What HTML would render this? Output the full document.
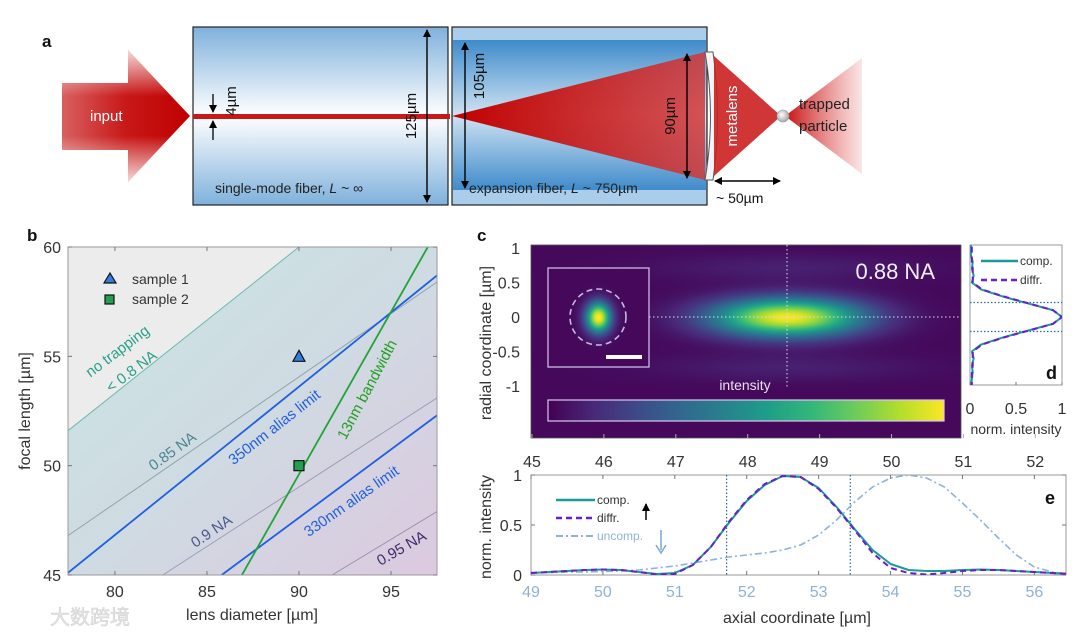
<!DOCTYPE html>
<html><head><meta charset="utf-8">
<style>
html,body{margin:0;padding:0;background:#fff;}
#root{position:relative;width:1080px;height:637px;overflow:hidden;font-family:"Liberation Sans","Noto Sans CJK SC",sans-serif;}
svg{position:absolute;left:0;top:0;}
canvas{position:absolute;}
</style></head>
<body>
<div id="root">
<canvas id="heat" width="430" height="193" style="left:531px;top:245px;"></canvas>
<svg id="fig" width="1080" height="637" viewBox="0 0 1080 637">
<defs>
  <linearGradient id="smf" x1="0" y1="0" x2="0" y2="1">
    <stop offset="0" stop-color="#7fb1dc"/><stop offset="0.5" stop-color="#ffffff"/><stop offset="1" stop-color="#7fb1dc"/>
  </linearGradient>
  <linearGradient id="exf" x1="0" y1="0" x2="0" y2="1">
    <stop offset="0" stop-color="#3f8bcb"/><stop offset="0.5" stop-color="#cfe3f2"/><stop offset="1" stop-color="#3f8bcb"/>
  </linearGradient>
  <linearGradient id="arrowIn" x1="0" y1="0" x2="1" y2="0">
    <stop offset="0" stop-color="#d86060"/><stop offset="0.5" stop-color="#c81818"/><stop offset="1" stop-color="#c00000"/>
  </linearGradient>
  <linearGradient id="arrowV" x1="0" y1="0" x2="0" y2="1">
    <stop offset="0" stop-color="#fff" stop-opacity="0.85"/><stop offset="0.35" stop-color="#fff" stop-opacity="0"/><stop offset="0.65" stop-color="#fff" stop-opacity="0"/><stop offset="1" stop-color="#fff" stop-opacity="0.85"/>
  </linearGradient>
  <linearGradient id="cone" x1="0" y1="0" x2="1" y2="0">
    <stop offset="0" stop-color="#c00000"/><stop offset="1" stop-color="#d23a3a" stop-opacity="0.85"/>
  </linearGradient>
  <linearGradient id="tail" x1="0" y1="0" x2="1" y2="0">
    <stop offset="0" stop-color="#c81010"/><stop offset="1" stop-color="#e05050" stop-opacity="0.15"/>
  </linearGradient>
  <linearGradient id="bgB" x1="0" y1="0" x2="1" y2="1">
    <stop offset="0" stop-color="#c9e6e4"/><stop offset="0.5" stop-color="#cfdbe2"/><stop offset="1" stop-color="#dcc9e0"/>
  </linearGradient>
  <radialGradient id="ball" cx="0.4" cy="0.4" r="0.6">
    <stop offset="0" stop-color="#fff"/><stop offset="1" stop-color="#a8a8a8"/>
  </radialGradient>
  <marker id="ah" markerWidth="8" markerHeight="8" refX="7" refY="4" orient="auto-start-reverse" markerUnits="userSpaceOnUse">
    <path d="M0,0 L8,4 L0,8 z" fill="#000"/>
  </marker>
  <clipPath id="clipB"><rect x="68" y="247" width="369" height="328"/></clipPath>
  <clipPath id="clipE"><rect x="531" y="475" width="535" height="100"/></clipPath>
  <clipPath id="clipD"><rect x="970" y="245" width="92" height="140"/></clipPath>
</defs>

<!-- PANEL A -->
<g>
  <text x="42" y="47" font-size="17" font-weight="bold" fill="#111">a</text>
  <g>
    <polygon points="62,83 128,83 128,50 190,116 128,182 128,150 62,150" fill="url(#arrowIn)"/>
    <polygon points="62,83 128,83 128,50 190,116 128,182 128,150 62,150" fill="url(#arrowV)"/>
    <text x="90" y="121" font-size="15" fill="#fff">input</text>
  </g>
  <rect x="193" y="27" width="255" height="178" fill="url(#smf)" stroke="#222" stroke-width="1.2"/>
  <rect x="452" y="27" width="255" height="178" fill="#a9cdea" stroke="#222" stroke-width="1.2"/>
  <rect x="453" y="40" width="253" height="150" fill="url(#exf)"/>
  <rect x="193" y="114" width="257" height="5" fill="#c81818"/>
  <polygon points="452,116 705,52 705,180" fill="url(#cone)"/>
  <path d="M705,52 Q716,116 705,180 L713,180 Q722,116 713,52 z" fill="#f4f4f4" stroke="#555" stroke-width="1"/>
  <polygon points="714,56 781,116 714,176" fill="#cc2020" opacity="0.9"/>
  <polygon points="785,116 862,58 862,174" fill="url(#tail)"/>
  <circle cx="783" cy="116" r="6" fill="url(#ball)" stroke="#999" stroke-width="0.6"/>
  <line x1="427" y1="30" x2="427" y2="202" stroke="#000" stroke-width="1.4" marker-start="url(#ah)" marker-end="url(#ah)"/>
  <text transform="translate(416,116) rotate(-90)" text-anchor="middle" font-size="15" fill="#111">125µm</text>
  <line x1="465" y1="43" x2="465" y2="188" stroke="#000" stroke-width="1.4" marker-start="url(#ah)" marker-end="url(#ah)"/>
  <text transform="translate(484,76) rotate(-90)" text-anchor="middle" font-size="15" fill="#111">105µm</text>
  <line x1="687" y1="54" x2="687" y2="178" stroke="#000" stroke-width="1.4" marker-start="url(#ah)" marker-end="url(#ah)"/>
  <text transform="translate(675,116) rotate(-90)" text-anchor="middle" font-size="15" fill="#111">90µm</text>
  <line x1="213" y1="94" x2="213" y2="112" stroke="#000" stroke-width="1.3" marker-end="url(#ah)"/>
  <line x1="213" y1="140" x2="213" y2="121" stroke="#000" stroke-width="1.3" marker-end="url(#ah)"/>
  <text transform="translate(236,101) rotate(-90)" text-anchor="middle" font-size="15" fill="#111">4µm</text>
  <text x="215" y="193" font-size="14" fill="#222">single-mode fiber, <tspan font-style="italic">L</tspan> ~ ∞</text>
  <text x="469" y="193" font-size="14" fill="#222">expansion fiber, <tspan font-style="italic">L</tspan> ~ 750µm</text>
  <text transform="translate(737,116) rotate(-90)" text-anchor="middle" font-size="15" fill="#fff">metalens</text>
  <line x1="715" y1="181" x2="780" y2="181" stroke="#000" stroke-width="1.4" marker-start="url(#ah)" marker-end="url(#ah)"/>
  <text x="716" y="203" font-size="14" fill="#111">~ 50µm</text>
  <text x="799" y="109" font-size="15" fill="#222">trapped</text>
  <text x="799" y="131" font-size="15" fill="#222">particle</text>
</g>

<!-- PANEL B -->
<g id="panelB">
  <text x="27" y="241" font-size="17" font-weight="bold" fill="#111">b</text>
</g>

<!-- PANEL C/D/E -->
<g id="panelC">
  <text x="477" y="241" font-size="17" font-weight="bold" fill="#111">c</text>
</g>
<g id="panelD"></g>
<g id="panelE"></g>

<text x="50" y="624" font-size="20" fill="#e6e6e6" stroke="#cfcfcf" stroke-width="0.5">大数跨境</text>
</svg>
</div>

<script>
// ===== Panel b data =====
const bXTicks = [80, 85, 90, 95];
const bYTicks = [45, 50, 55, 60];
const bLineNames = ["no-trapping-0.8NA", "0.85NA", "350nm-alias", "0.9NA", "330nm-alias", "0.95NA", "13nm-bandwidth"];
const bLineX1 = [77.45, 77.45, 77.45, 82.6, 85.8, 91.8, 86.9];
const bLineY1 = [51.6, 46.8, 45.1, 45.0, 45.0, 45.0, 45.0];
const bLineX2 = [90.0, 97.5, 97.5, 97.5, 97.5, 97.5, 97.0];
const bLineY2 = [60.0, 58.4, 58.7, 53.1, 52.3, 47.9, 60.0];
const bSampleX = [90, 90];
const bSampleY = [55, 50];

// ===== Panel c/d/e data =====
const cYTicks = [1, 0.5, 0, -0.5, -1];
const cYTickLabels = ["1", "0.5", "0", "-0.5", "-1"];
const cTopTicks = [45, 46, 47, 48, 49, 50, 51, 52];
const dXTicks = [0, 0.5, 1];
const dR = [-1.75,-1.6,-1.4,-1.2,-1.0,-0.8,-0.7,-0.6,-0.5,-0.4,-0.3,-0.2,-0.1,0,0.1,0.2,0.3,0.4,0.5,0.6,0.7,0.8,0.9,1.04];
const dComp = [0.01,0.02,0.01,0.02,0.01,0.03,0.02,0.04,0.02,0.12,0.35,0.62,0.9,1.0,0.9,0.62,0.35,0.12,0.02,0.04,0.02,0.03,0.01,0.01];
const dDiffr = [0.02,0.01,0.02,0.01,0.02,0.02,0.03,0.03,0.03,0.13,0.36,0.63,0.9,1.0,0.9,0.63,0.36,0.13,0.03,0.03,0.03,0.02,0.02,0.02];
const eX = [49,49.25,49.5,49.75,50,50.25,50.5,50.75,51,51.25,51.5,51.75,52,52.25,52.5,52.75,53,53.25,53.5,53.75,54,54.25,54.5,54.75,55,55.25,55.5,55.75,56,56.25,56.5];
const eComp = [0.02,0.03,0.04,0.05,0.055,0.05,0.03,0.01,0.02,0.1,0.28,0.52,0.74,0.9,0.99,0.98,0.87,0.68,0.46,0.25,0.11,0.05,0.04,0.04,0.05,0.055,0.05,0.04,0.03,0.02,0.01];
const eDiffr = [0.02,0.03,0.04,0.05,0.055,0.05,0.03,0.005,0.01,0.1,0.28,0.53,0.75,0.91,0.99,0.98,0.86,0.67,0.45,0.22,0.07,0.02,0.005,0.02,0.04,0.05,0.05,0.04,0.03,0.02,0.01];
const eUncomp = [0.02,0.025,0.03,0.03,0.035,0.04,0.05,0.07,0.09,0.12,0.15,0.18,0.2,0.22,0.25,0.3,0.4,0.55,0.73,0.88,0.97,1.0,0.97,0.88,0.72,0.55,0.37,0.2,0.08,0.03,0.01];
const eXTicks = [49,50,51,52,53,54,55,56];
const eYTicks = [0, 0.5, 1];
const eFwhm = [51.72, 53.44];
const dFwhm = [0.21, -0.21];

const NS = "http://www.w3.org/2000/svg";
function mk(tag, attrs, parent, text){
  const e = document.createElementNS(NS, tag);
  for (const k in attrs) e.setAttribute(k, attrs[k]);
  if (text !== undefined) e.textContent = text;
  parent.appendChild(e);
  return e;
}

// ---------- Panel B ----------
(function(){
  const g = document.getElementById('panelB');
  const X0=68, X1=437, Y0=575, Y1=247, xmin=77.45, xmax=97.5, ymin=45, ymax=60;
  const sx = v => X0 + (v-xmin)/(xmax-xmin)*(X1-X0);
  const sy = v => Y0 - (v-ymin)/(ymax-ymin)*(Y0-Y1);
  const bg = mk('rect',{x:X0,y:Y1,width:X1-X0,height:Y0-Y1,fill:'url(#bgB)'},g);
  
  
  const nt = mk('polygon',{points:`${sx(bLineX1[0])},${sy(bLineY1[0])} ${sx(bLineX2[0])},${sy(bLineY2[0])} ${X0},${Y1}`,fill:'#ececec'},g);
  
  
  const lg = mk('g',{'clip-path':'url(#clipB)'},g);
  const colors = ['#6fb8ae','#8fa5b0','#1f5fe0','#9a9fb5','#1f5fe0','#9a92b0','#22a33a'];
  const widths = [1,1,1.8,1,1.8,1,1.8];
  for (let i=0;i<bLineNames.length;i++){
    const l = mk('line',{x1:sx(bLineX1[i]),y1:sy(bLineY1[i]),x2:sx(bLineX2[i]),y2:sy(bLineY2[i]),stroke:colors[i],'stroke-width':widths[i]},lg);
    
    
  }
  const fr = mk('rect',{x:X0,y:Y1,width:X1-X0,height:Y0-Y1,fill:'none',stroke:'#9a9a9a','stroke-width':1},g);
  
  
  bXTicks.forEach(v=>{
    mk('line',{x1:sx(v),y1:Y0,x2:sx(v),y2:Y0-4,stroke:'#777'},g);
    mk('line',{x1:sx(v),y1:Y1,x2:sx(v),y2:Y1+4,stroke:'#777'},g);
    const t = mk('text',{x:sx(v),y:Y0+22,'font-size':16,'text-anchor':'middle',fill:'#333'},g,String(v));
    
    
  });
  bYTicks.forEach(v=>{
    mk('line',{x1:X0,y1:sy(v),x2:X0+4,y2:sy(v),stroke:'#777'},g);
    mk('line',{x1:X1,y1:sy(v),x2:X1-4,y2:sy(v),stroke:'#777'},g);
    const t = mk('text',{x:X0-7,y:sy(v)+6,'font-size':16,'text-anchor':'end',fill:'#333'},g,String(v));
    
    
  });
  const xt = mk('text',{x:252,y:620,'font-size':16,'text-anchor':'middle',fill:'#333'},g,'lens diameter [µm]');
  
  
  const yt = mk('text',{transform:'translate(30,411) rotate(-90)','font-size':16,'text-anchor':'middle',fill:'#333'},g,'focal length [µm]');
  
  
  // samples
  const tx=sx(bSampleX[0]), ty=sy(bSampleY[0]);
  const tri = mk('polygon',{points:`${tx},${ty-6} ${tx+6},${ty+5} ${tx-6},${ty+5}`,fill:'#2f7fe0',stroke:'#111','stroke-width':1.2},g);
  
  
  const qx=sx(bSampleX[1]), qy=sy(bSampleY[1]);
  const sq = mk('rect',{x:qx-5,y:qy-5,width:10,height:10,fill:'#22a050',stroke:'#111','stroke-width':1.2},g);
  
  
  // legend
  mk('polygon',{points:'110,273 116,283 104,283',fill:'#2f7fe0',stroke:'#111','stroke-width':1.2},g);
  const l1 = mk('text',{x:132,y:284,'font-size':14,fill:'#333'},g,'sample 1');
  
  
  mk('rect',{x:105,y:295,width:9,height:9,fill:'#22a050',stroke:'#111','stroke-width':1.2},g);
  const l2 = mk('text',{x:132,y:304,'font-size':14,fill:'#333'},g,'sample 2');
  
  
  // line labels
  const labels = [
    ['no trapping',118,352,-37,'#2a9f8a','label-no-trapping'],
    ['< 0.8 NA',132,372,-37,'#2a9f8a','label-0.8NA'],
    ['0.85 NA',173,452,-36,'#4a8693','label-0.85NA'],
    ['350nm alias limit',275,428,-38,'#2060e0','label-350nm-alias'],
    ['13nm bandwidth',368,390,-62,'#22a022','label-13nm-bandwidth'],
    ['0.9 NA',212,532,-34,'#4a5a8c','label-0.9NA'],
    ['330nm alias limit',352,502,-35,'#2060e0','label-330nm-alias'],
    ['0.95 NA',402,549,-30,'#3d2d6a','label-0.95NA']
  ];
  labels.forEach(L=>{
    const t = mk('text',{transform:`translate(${L[1]},${L[2]}) rotate(${L[3]})`,'font-size':15,'text-anchor':'middle','dominant-baseline':'middle',fill:L[4]},g,L[0]);
    
    
  });
})();

// ---------- Viridis ----------
const VIR = [[68,1,84],[72,40,120],[62,74,137],[49,104,142],[38,130,142],[31,158,137],[53,183,121],[109,205,89],[180,222,44],[253,231,37]];
function viridis(t){
  t=Math.max(0,Math.min(1,t));
  const p=t*(VIR.length-1), i=Math.min(VIR.length-2,Math.floor(p)), f=p-i;
  return VIR[i].map((c,k)=>Math.round(c+(VIR[i+1][k]-c)*f));
}

// ---------- Panel C heatmap (image) ----------
(function(){
  const cv=document.getElementById('heat'), ctx=cv.getContext('2d');
  const W=cv.width,H=cv.height, img=ctx.createImageData(W,H);
  const cx=787-531, cy=317-245;
  for(let y=0;y<H;y++)for(let x=0;x<W;x++){
    const dx=(x-cx)/95, dy=(y-cy)/24;
    let v=Math.exp(-(dx*dx+dy*dy)*1.6);
    const ddy=(Math.abs(y-cy)-50)/14, lobe=0.07*Math.exp(-ddy*ddy-(dx*dx)*0.5);
    v=Math.max(v,0)+lobe+0.02;
    const c=viridis(v*0.97);
    const k=(y*W+x)*4; img.data[k]=c[0];img.data[k+1]=c[1];img.data[k+2]=c[2];img.data[k+3]=255;
  }
  ctx.putImageData(img,0,0);
  // inset
  const ix0=548-531, iy0=268-245, iw=101, ih=99;
  const icx=598-531, icy=317-245;
  const sub=ctx.getImageData(ix0,iy0,iw,ih);
  for(let y=0;y<ih;y++)for(let x=0;x<iw;x++){
    const dx=(x+ix0-icx)/14, dy=(y+iy0-icy)/17;
    const v=Math.exp(-(dx*dx+dy*dy)*1.3)+0.02;
    const c=viridis(v);const k=(y*iw+x)*4;sub.data[k]=c[0];sub.data[k+1]=c[1];sub.data[k+2]=c[2];
  }
  ctx.putImageData(sub,ix0,iy0);
  // colorbar
  const bx0=548-531, by0=400-245, bw=396, bh=21;
  for(let x=0;x<bw;x++){const c=viridis(x/bw);ctx.fillStyle=`rgb(${c[0]},${c[1]},${c[2]})`;ctx.fillRect(bx0+x,by0,1,bh);}
})();

// ---------- Panel C overlays ----------
(function(){
  const g=document.getElementById('panelC');
  const X0=531,X1=961,Y0=245,Y1=438;
  const sy=v=>317-v*69;
  const fr=mk('rect',{x:X0,y:Y0,width:X1-X0,height:Y1-Y0,fill:'none',stroke:'#555','stroke-width':0.8},g);
  
  
  mk('line',{x1:787,y1:Y0,x2:787,y2:388,stroke:'#e0d8ee','stroke-width':1,'stroke-dasharray':'1.5,2.5'},g);
  mk('line',{x1:649,y1:317,x2:X1,y2:317,stroke:'#e0d8ee','stroke-width':1,'stroke-dasharray':'1.5,2.5'},g);
  const ib=mk('rect',{x:548,y:268,width:101,height:99,fill:'none',stroke:'#d8c8ee','stroke-width':1.2},g);
  
  
  mk('circle',{cx:598,cy:317,r:28,fill:'none',stroke:'#c8b8e0','stroke-width':1.6,'stroke-dasharray':'6,4'},g);
  const sb=mk('rect',{x:606,y:355,width:36,height:4,fill:'#fff'},g);
  
  
  const cb=mk('rect',{x:548,y:400,width:396,height:21,fill:'none',stroke:'#d8c8ee','stroke-width':1.2},g);
  
  
  const it=mk('text',{x:745,y:390,'font-size':14,'text-anchor':'middle',fill:'#e8e0f0'},g,'intensity');
  
  
  const na=mk('text',{x:935,y:279,'font-size':22,'text-anchor':'end',fill:'#f2eef8'},g,'0.88 NA');
  
  
  cYTicks.forEach((v,i)=>{
    const t=mk('text',{x:520,y:sy(v)+6,'font-size':16,'text-anchor':'end',fill:'#333'},g,cYTickLabels[i]);
    
    
  });
  const yt=mk('text',{transform:'translate(491,343) rotate(-90)','font-size':16,'text-anchor':'middle',fill:'#333'},g,'radial coordinate [µm]');
  
  
  const sx=v=>532+(v-45)*71.9;
  cTopTicks.forEach(v=>{
    mk('line',{x1:sx(v),y1:Y1,x2:sx(v),y2:Y1-4,stroke:'#aaa'},g);
    const t=mk('text',{x:sx(v),y:467,'font-size':16,'text-anchor':'middle',fill:'#333'},g,String(v));
    
    
  });
})();

// ---------- Panel D ----------
(function(){
  const g=document.getElementById('panelD');
  const X0=970,X1=1062,Y0=245,Y1=385;
  const sx=v=>X0+v*(X1-X0);
  const sy=v=>317-v*69;
  mk('rect',{x:X0,y:Y0,width:X1-X0,height:Y1-Y0,fill:'#fff',stroke:'#999','stroke-width':1},g);
  dFwhm.forEach(v=>mk('line',{x1:X0,y1:sy(v),x2:X1,y2:sy(v),stroke:'#2d6aa8','stroke-width':1.2,'stroke-dasharray':'1.5,2'},g));
  const cg=mk('g',{'clip-path':'url(#clipD)'},g);
  const p1=mk('polyline',{points:dR.map((r,i)=>sx(dComp[i])+','+sy(r)).join(' '),fill:'none',stroke:'#1a9a9a','stroke-width':2,'stroke-linejoin':'round'},cg);
  
  
  const p2=mk('polyline',{points:dR.map((r,i)=>sx(dDiffr[i])+','+sy(r)).join(' '),fill:'none',stroke:'#6a1fc8','stroke-width':2,'stroke-dasharray':'6,4'},cg);
  
  
  mk('line',{x1:981,y1:261,x2:1018,y2:261,stroke:'#1a9a9a','stroke-width':2.5},g);
  const t1=mk('text',{x:1020,y:265,'font-size':12,fill:'#333'},g,'comp.');
  
  
  mk('line',{x1:981,y1:280,x2:1018,y2:280,stroke:'#6a1fc8','stroke-width':2.5,'stroke-dasharray':'6,4'},g);
  const t2=mk('text',{x:1020,y:284,'font-size':12,fill:'#333'},g,'diffr.');
  
  
  const dl=mk('text',{x:1046,y:379,'font-size':18,'font-weight':'bold',fill:'#111'},g,'d');
  
  
  dXTicks.forEach(v=>{
    mk('line',{x1:sx(v),y1:Y1,x2:sx(v),y2:Y1-3,stroke:'#777'},g);
    const t=mk('text',{x:sx(v),y:414,'font-size':16,'text-anchor':'middle',fill:'#333'},g,String(v));
    
    
  });
  const xt=mk('text',{x:1016,y:434,'font-size':14,'text-anchor':'middle',fill:'#333'},g,'norm. intensity');
  
  
})();

// ---------- Panel E ----------
(function(){
  const g=document.getElementById('panelE');
  const X0=531,X1=1066,Y0=575,Y1=475,xmin=49,xmax=56.44;
  const sx=v=>X0+(v-xmin)/(xmax-xmin)*(X1-X0);
  const sy=v=>Y0-v*(Y0-Y1);
  mk('rect',{x:X0,y:Y1,width:X1-X0,height:Y0-Y1,fill:'#fff',stroke:'#999','stroke-width':1},g);
  eXTicks.forEach(v=>{
    mk('line',{x1:sx(v),y1:Y0,x2:sx(v),y2:Y0-4,stroke:'#777'},g);
    mk('line',{x1:sx(v),y1:Y1,x2:sx(v),y2:Y1+4,stroke:'#777'},g);
    const t=mk('text',{x:sx(v),y:597,'font-size':16,'text-anchor':'middle',fill:'#8fb2d4'},g,String(v));
    
    
  });
  eYTicks.forEach(v=>{
    mk('line',{x1:X0,y1:sy(v),x2:X0+4,y2:sy(v),stroke:'#777'},g);
    mk('line',{x1:X1,y1:sy(v),x2:X1-4,y2:sy(v),stroke:'#777'},g);
    const t=mk('text',{x:522,y:sy(v)+6,'font-size':16,'text-anchor':'end',fill:'#333'},g,String(v));
    
    
  });
  eFwhm.forEach(v=>mk('line',{x1:sx(v),y1:Y1,x2:sx(v),y2:Y0,stroke:'#2d6aa8','stroke-width':1.2,'stroke-dasharray':'1.5,2'},g));
  const cg=mk('g',{'clip-path':'url(#clipE)'},g);
  const pu=mk('polyline',{points:eX.map((x,i)=>sx(x)+','+sy(eUncomp[i])).join(' '),fill:'none',stroke:'#8fb2d8','stroke-width':1.6,'stroke-dasharray':'7,3,2,3'},cg);
  
  
  const pc=mk('polyline',{points:eX.map((x,i)=>sx(x)+','+sy(eComp[i])).join(' '),fill:'none',stroke:'#1a9a9a','stroke-width':2,'stroke-linejoin':'round'},cg);
  
  
  const pd=mk('polyline',{points:eX.map((x,i)=>sx(x)+','+sy(eDiffr[i])).join(' '),fill:'none',stroke:'#6a1fc8','stroke-width':2,'stroke-dasharray':'6,4'},cg);
  
  
  // legend
  mk('line',{x1:556,y1:500,x2:595,y2:500,stroke:'#1a9a9a','stroke-width':2.5},g);
  const l1=mk('text',{x:597,y:504,'font-size':12,fill:'#333'},g,'comp.');
  
  
  mk('line',{x1:556,y1:518,x2:595,y2:518,stroke:'#6a1fc8','stroke-width':2.5,'stroke-dasharray':'6,4'},g);
  const l2=mk('text',{x:597,y:522,'font-size':12,fill:'#333'},g,'diffr.');
  
  
  mk('line',{x1:556,y1:536,x2:595,y2:536,stroke:'#8fb2d8','stroke-width':2,'stroke-dasharray':'7,3,2,3'},g);
  const l3=mk('text',{x:597,y:540,'font-size':12,fill:'#8fb2d8'},g,'uncomp.');
  
  
  mk('line',{x1:646,y1:520,x2:646,y2:504,stroke:'#000','stroke-width':1.5,'marker-end':'url(#ah)'},g);
  mk('line',{x1:661,y1:530,x2:661,y2:550,stroke:'#7aa6d6','stroke-width':1.5},g);
  mk('path',{d:'M656,545 L661,553 L666,545',fill:'none',stroke:'#7aa6d6','stroke-width':1.5},g);
  const el=mk('text',{x:1045,y:504,'font-size':18,'font-weight':'bold',fill:'#111'},g,'e');
  
  
  const yt=mk('text',{transform:'translate(491,527) rotate(-90)','font-size':16,'text-anchor':'middle',fill:'#333'},g,'norm. intensity');
  
  
  const xt=mk('text',{x:797,y:623,'font-size':16,'text-anchor':'middle',fill:'#333'},g,'axial coordinate [µm]');
  
  
})();
</script>
</body></html>
